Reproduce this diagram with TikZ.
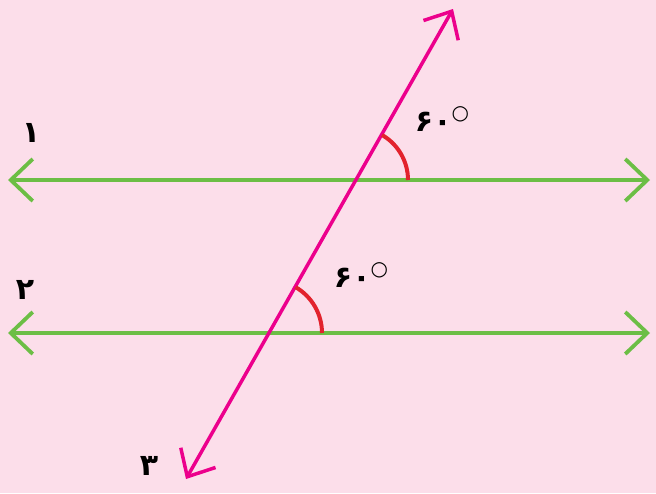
\documentclass[tikz,border=0pt]{standalone}
\usepackage{fontspec}
\usepackage{tikz}
\usetikzlibrary{arrows.meta}
\newfontfamily\farsifont[Script=Arabic]{DejaVu Sans}
\definecolor{PgBack}{RGB}{252,222,234}
\definecolor{PgGreen}{RGB}{108,190,69}
\definecolor{PgMagenta}{RGB}{236,0,140}
\definecolor{PgRed}{RGB}{226,35,45}

\begin{document}
\begin{tikzpicture}[
  x=1pt,y=-1pt,
  parline/.style={draw=PgGreen,line width=3.8pt,
                  {Straight Barb[length=22pt,width=42pt,line width=3.8pt]}-{Straight Barb[length=22pt,width=42pt,line width=3.8pt]}},
  transline/.style={draw=PgMagenta,line width=3.5pt,
                  {Straight Barb[length=22pt,width=40pt,line width=3.5pt]}-{Straight Barb[length=22pt,width=40pt,line width=3.5pt]}},
  anglearc/.style={draw=PgRed,line width=4pt},
  numlabel/.style={font=\farsifont\bfseries\fontsize{30}{30}\selectfont,inner sep=0pt},
  deglabel/.style={font=\farsifont\bfseries\fontsize{30}{30}\selectfont,inner sep=0pt}
]
\fill[PgBack] (0,0) rectangle (656,493);
\useasboundingbox (0,0) rectangle (656,493);
% the two parallel lines and the transversal
\coordinate (oneW) at (8,180);
\coordinate (oneE) at (650,180);
\coordinate (twoW) at (8,333);
\coordinate (twoE) at (650,333);
\coordinate (threeN) at (453,9);
\coordinate (threeS) at (186,479);
\coordinate (cutA) at (356,180);
\coordinate (cutB) at (269,333);
\draw[parline] (oneW) -- (oneE);
\draw[parline] (twoW) -- (twoE);
\draw[transline] (threeS) -- (threeN);
% angles
\draw[anglearc] (cutA) ++(52,0) arc (0:-60:52);
\draw[anglearc] (cutB) ++(53,0) arc (0:-60:53);
\node[deglabel] (angA) at (442,119) {۶۰\raisebox{0.7ex}{\fontsize{20}{20}\selectfont○}};
\node[deglabel] (angB) at (361,275) {۶۰\raisebox{0.7ex}{\fontsize{20}{20}\selectfont○}};
% line numbers
\node[numlabel] (labOne) at (31,133) {۱};
\node[numlabel] (labTwo) at (25,290) {۲};
\node[numlabel] (labThree) at (149,466) {۳};
\end{tikzpicture}
\end{document}
